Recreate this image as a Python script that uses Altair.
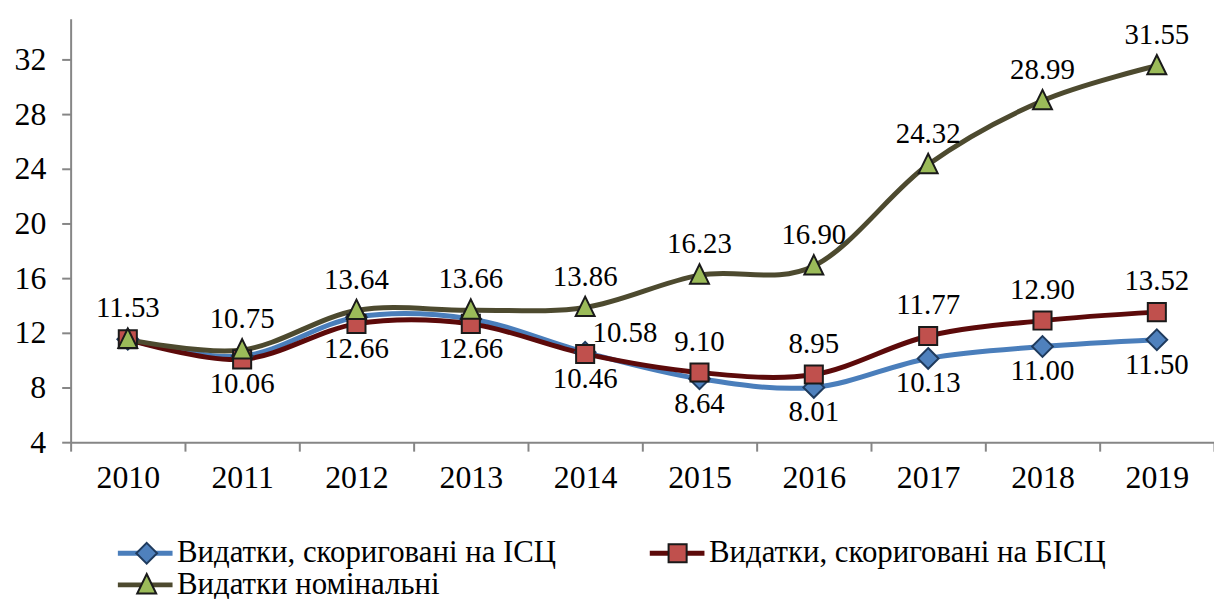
import altair as alt
import pandas as pd

years = ["2010", "2011", "2012", "2013", "2014", "2015", "2016", "2017", "2018", "2019"]
names = ["Видатки, скориговані на ІСЦ", "Видатки, скориговані на БІСЦ", "Видатки номінальні"]
icc = [11.53, 10.30, 13.15, 13.02, 10.58, 8.64, 8.01, 10.13, 11.00, 11.50]
bicc = [11.53, 10.06, 12.66, 12.66, 10.46, 9.10, 8.95, 11.77, 12.90, 13.52]
nominal = [11.53, 10.75, 13.64, 13.66, 13.86, 16.23, 16.90, 24.32, 28.99, 31.55]

# where each value label sits relative to its marker ("" = no label)
icc_lab = ["", "", "", "", "right", "below", "below", "below", "below", "below"]
bicc_lab = ["", "below", "below", "below", "below", "above", "above", "above", "above", "above"]
nom_lab = ["above"] * 10

line_colors = ["#4A7EBB", "#5C0A0A", "#4D4A2F"]
fill_colors = ["#4F81BD", "#C0504D", "#9BBB59"]
shapes = ["M0,-1.15L1.15,0L0,1.15L-1.15,0Z", "M-1,-1H1V1H-1Z", "M0,-1.2L1.05,0.95L-1.05,0.95Z"]
stroke_colors = ["#1F3B5E", "#1a1a1a", "#1a1a1a"]

rows = []
for name, vals, labs in zip(names, [icc, bicc, nominal], [icc_lab, bicc_lab, nom_lab]):
    for y, v, l in zip(years, vals, labs):
        rows.append({"year": y, "value": v, "series": name, "s2": name,
                     "label": f"{v:.2f}", "pos": l})
df = pd.DataFrame(rows)

FONT = "Liberation Serif"
LEG_FONT = 31

x = alt.X("year:N", sort=years, bandPosition=0.5,
          scale=alt.Scale(type="band", paddingInner=0, paddingOuter=0),
          axis=alt.Axis(title=None, tickBand="extent", labelAngle=0, labelFont=FONT,
                        labelFontSize=32, labelColor="black", labelPadding=12,
                        tickSize=9, tickColor="#868686", tickWidth=2,
                        domainColor="#868686", domainWidth=2, grid=False))
y = alt.Y("value:Q", scale=alt.Scale(domain=[4, 35], nice=False, zero=False),
          axis=alt.Axis(title=None, values=list(range(4, 33, 4)), labelFont=FONT,
                        labelFontSize=32, labelColor="black", labelPadding=16,
                        tickSize=9, tickColor="#868686", tickWidth=2,
                        domainColor="#868686", domainWidth=2, grid=False))

base = alt.Chart(df)

lines = base.mark_line(strokeWidth=5, interpolate="cardinal").encode(
    x=x, y=y,
    color=alt.Color("series:N", sort=names,
                    scale=alt.Scale(domain=names, range=line_colors),
                    legend=alt.Legend(title=None, orient="none", legendX=59.5, legendY=522,
                                      direction="horizontal", columns=2, columnPadding=84,
                                      rowPadding=0, symbolType="M-2.75,0H2.75", symbolSize=400,
                                      symbolStrokeWidth=5, labelFont=FONT,
                                      labelFontSize=LEG_FONT, labelOffset=16.5,
                                      labelColor="black", labelLimit=0)),
    order=alt.Order("year:N"),
)

points = base.mark_point(filled=True, opacity=1, strokeWidth=2, size=330).encode(
    x=x, y=y,
    fill=alt.Fill("s2:N", sort=names,
                  scale=alt.Scale(domain=names, range=fill_colors),
                  legend=alt.Legend(title=None, orient="none", legendX=61, legendY=522,
                                    direction="horizontal", columns=2, columnPadding=84,
                                    rowPadding=0, symbolSize=330, symbolStrokeWidth=2,
                                    symbolStrokeColor="#1a1a1a", labelFont=FONT,
                                    labelFontSize=LEG_FONT, labelOffset=37.5,
                                    labelColor="transparent", labelLimit=0)),
    shape=alt.Shape("s2:N", sort=names, scale=alt.Scale(domain=names, range=shapes)),
    stroke=alt.Stroke("series:N", scale=alt.Scale(domain=names, range=stroke_colors),
                      legend=None),
)

def labels(pos, dx, dy):
    return base.transform_filter(alt.datum.pos == pos).mark_text(
        font=FONT, fontSize=29, color="black", baseline="middle", dx=dx, dy=dy
    ).encode(x=x, y=y, text="label:N")

chart = alt.layer(
    lines, points,
    labels("above", 0, -31), labels("below", 0, 25), labels("right", 40, -19),
).resolve_scale(color="independent", fill="independent", shape="independent",
                stroke="independent").properties(
    width=1150, height=426,
    autosize=alt.AutoSizeParams(type="none"),
    padding={"left": 63, "top": 9, "right": 0, "bottom": 156},
).configure_view(stroke=None)

chart.save("out.html", embed_options={"renderer": "svg", "actions": False})
